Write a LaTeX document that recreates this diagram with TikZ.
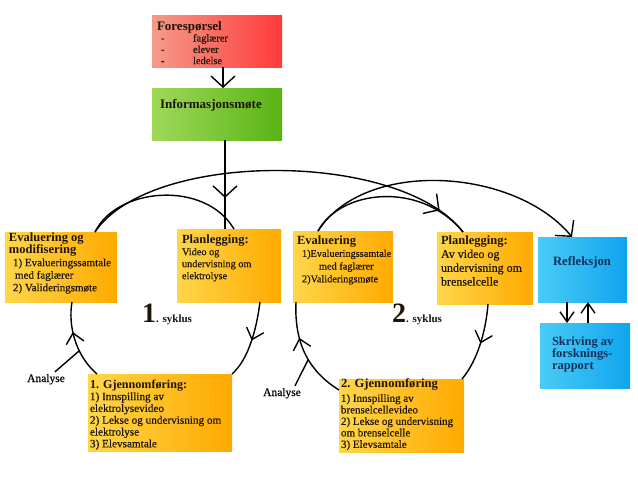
\documentclass[tikz,border=0pt]{standalone}
\usepackage{fontspec}
\setmainfont{Liberation Serif}[UprightFeatures={FakeBold=0.35}]
\usetikzlibrary{arrows.meta,calc,decorations.markings}
\definecolor{orL}{HTML}{FFD64A}
\definecolor{orR}{HTML}{FFAA00}
\definecolor{rdL}{HTML}{F59A8A}
\definecolor{rdR}{HTML}{FF3A3A}
\definecolor{grL}{HTML}{A0D85A}
\definecolor{grR}{HTML}{58B414}
\definecolor{blL}{HTML}{48CCF6}
\definecolor{blR}{HTML}{10A4EE}
\definecolor{navy}{HTML}{14305A}
\definecolor{ink}{HTML}{1E1408}
\newcommand\boxtitle[1]{{\bfseries\fontsize{12.5}{12.5}\selectfont #1}}
\newcommand\dashitem[1]{\hspace*{4pt}\makebox[32pt][l]{-}#1}
\begin{document}
\begin{tikzpicture}[x=1pt,y=-1pt,
  box/.style={draw=none,anchor=north west,inner sep=0pt,outer sep=0pt},
  obox/.style={box,left color=orL,right color=orR},
  rbox/.style={box,left color=rdL,right color=rdR},
  gbox/.style={box,left color=grL,right color=grR},
  bbox/.style={box,left color=blL,right color=blR},
  txt/.style={anchor=north west,inner sep=0pt,outer sep=0pt,align=left,text=ink},
  conn/.style={draw=black,line width=1.4pt},
  bigtip/.style={-{Straight Barb[length=11pt,width=24pt]}},
  smalltip/.style={-{Straight Barb[length=10pt,width=14pt]}},
  midarrow/.style n args={3}{postaction={decorate,decoration={markings,
      mark=at position #1 with {\arrow{Straight Barb[length=#2,width=#3]}}}}}
]
\fill[white] (0,0) rectangle (638,479);
\useasboundingbox (0,0) rectangle (638,479);

% ---------- boxes ----------
\node[rbox,minimum width=130pt,minimum height=52pt] (fore) at (152,15) {};
\node[gbox,minimum width=130pt,minimum height=52pt] (info) at (152,88) {};
\node[obox,minimum width=112pt,minimum height=70pt] (eval1) at (5,232) {};
\node[obox,minimum width=104pt,minimum height=73pt] (plan1) at (177,229) {};
\node[obox,minimum width=100pt,minimum height=71pt] (eval2) at (293,231) {};
\node[obox,minimum width=96pt,minimum height=72pt] (plan2) at (437,232) {};
\node[bbox,minimum width=89pt,minimum height=65pt] (refl) at (538,237) {};
\node[bbox,minimum width=90pt,minimum height=65pt] (skr) at (540,323) {};
\node[obox,minimum width=144pt,minimum height=77pt] (gj1) at (88,374) {};
\node[obox,minimum width=125pt,minimum height=73pt] (gj2) at (339,379) {};

% ---------- texts ----------
\node[txt,font=\fontsize{10.5}{11.3}\selectfont] (foreT) at ($(fore.north west)+(5,6.2)$)
  {{\fontsize{13}{13}\selectfont\bfseries Forespørsel}\\
   \dashitem{faglærer}\\ \dashitem{elever}\\ \dashitem{ledelse}};
\node[txt,font=\fontsize{13}{13}\selectfont\bfseries] (infoT) at ($(info.north west)+(8,11)$) {Informasjonsmøte};
\node[txt,font=\fontsize{11}{12.5}\selectfont] (eval1T) at ($(eval1.north west)+(4,0.5)$)
  {\boxtitle{Evaluering og}\\ \boxtitle{modifisering}\\
   \hspace*{4pt}1) Evalueringssamtale\\ \hspace*{6pt}med faglærer\\ \hspace*{4pt}2) Valideringsmøte};
\node[txt,font=\fontsize{10.3}{12}\selectfont] (plan1T) at ($(plan1.north west)+(5,5.5)$)
  {\boxtitle{Planlegging:}\\ Video og\\ undervisning om\\ elektrolyse};
\node[txt,font=\fontsize{10.3}{12.7}\selectfont] (eval2T) at ($(eval2.north west)+(4,4.5)$)
  {\boxtitle{Evaluering}\\ \hspace*{5pt}1)Evalueringssamtale\\ \hspace*{22pt}med faglærer\\ \hspace*{5pt}2)Valideringsmøte};
\node[txt,font=\fontsize{12}{13.8}\selectfont] (plan2T) at ($(plan2.north west)+(4,3.5)$)
  {\boxtitle{Planlegging:}\\ Av video og\\ undervisning om\\ brenselcelle};
\node[anchor=base,inner sep=0pt,text=navy,font=\fontsize{12.7}{13}\selectfont\bfseries] (reflT)
  at ($(refl.north west)+(44,28)$) {Refleksjon};
\node[txt,text=navy,font=\fontsize{12.5}{12.3}\selectfont\bfseries] (skrT) at ($(skr.north west)+(12,13.5)$)
  {Skriving av\\ forsknings-\\ rapport};
\node[txt,font=\fontsize{11.2}{11.8}\selectfont] (gj1T) at ($(gj1.north west)+(2,5.8)$)
  {{\bfseries\fontsize{12.1}{12}\selectfont 1. Gjennomføring:}\\ 1) Innspilling av\\ elektrolysevideo\\
   2) Lekse og undervisning om\\ elektrolyse\\ 3) Elevsamtale};
\node[txt,font=\fontsize{11}{11.5}\selectfont] (gj2T) at ($(gj2.north west)+(2,0)$)
  {{\bfseries\fontsize{12.6}{12}\selectfont 2. Gjennomføring}\\[2.5pt] 1) Innspilling av\\ brenselcellevideo\\
   2) Lekse og undervisning\\ om brenselcelle\\ 3) Elevsamtale};

\node[anchor=base west,inner sep=0pt,text=ink] (syk1) at (142,322)
  {\bfseries{\fontsize{28}{28}\selectfont 1}{\fontsize{11}{11}\selectfont. syklus}};
\node[anchor=base west,inner sep=0pt,text=ink] (syk2) at (392,322)
  {\bfseries{\fontsize{28}{28}\selectfont 2}{\fontsize{11}{11}\selectfont. syklus}};
\node[anchor=base,inner sep=0pt,font=\fontsize{11.5}{12}\selectfont] (an1) at (46,382) {Analyse};
\node[anchor=base,inner sep=0pt,font=\fontsize{11.5}{12}\selectfont] (an2) at (282,396) {Analyse};

% ---------- connectors ----------
\draw[conn,bigtip] ($(fore.south west)+(71,0)$) -- ($(info.north west)+(71,0)$);
\draw[conn,midarrow={0.65}{11pt}{24pt}] ($(info.south west)+(73,0)$) -- ($(plan1.north west)+(48,0)$);

% top arcs
\draw[conn] ($(eval1.north west)+(90,0)$) .. controls (117,187) and (205,180) .. ($(plan1.north west)+(57,0)$);
\draw[conn,midarrow={-32pt}{11pt}{24pt}] ($(eval1.north west)+(90,0)$) .. controls (150,150) and (400,150) .. ($(plan2.north west)+(26,0)$);
\draw[conn] ($(eval2.north west)+(25,0)$) .. controls (340,190) and (420,180) .. ($(plan2.north west)+(26,0)$);
\draw[conn,bigtip] ($(eval2.north west)+(25,0)$) .. controls (365,158) and (515,168) .. ($(refl.north west)+(34,0)$);

% cycle 1
\draw[conn,midarrow={0.62}{10pt}{18pt}] ($(gj1.north west)+(9,0)$) .. controls (75,355) and (68,325) .. ($(eval1.south west)+(67,0)$);
\draw[conn,midarrow={0.5}{10pt}{18pt}] ($(plan1.south west)+(83,0)$) .. controls (257,325) and (250,358) .. (gj1.north east);
\coordinate (c1a) at (79,351);
\draw[conn] ($(an1.north)+(9,-2)$) -- (c1a);

% cycle 2
\draw[conn,midarrow={0.65}{10pt}{18pt}] ($(gj2.north west)+(0,11)$) .. controls (310,372) and (294,345) .. ($(eval2.south west)+(3,0)$);
\draw[conn,midarrow={0.5}{10pt}{18pt}] ($(plan2.south west)+(51,0)$) .. controls (486,330) and (478,360) .. ($(gj2.north east)+(-2,0)$);
\coordinate (c2a) at (308,360);
\draw[conn] ($(an2.north)+(13,-2)$) -- (c2a);

% reflection loop
\draw[conn,smalltip] ($(refl.south west)+(29,0)$) -- ($(skr.north west)+(27,0)$);
\draw[conn,smalltip] ($(skr.north west)+(48,0)$) -- ($(refl.south west)+(50,0)$);
\end{tikzpicture}
\end{document}
